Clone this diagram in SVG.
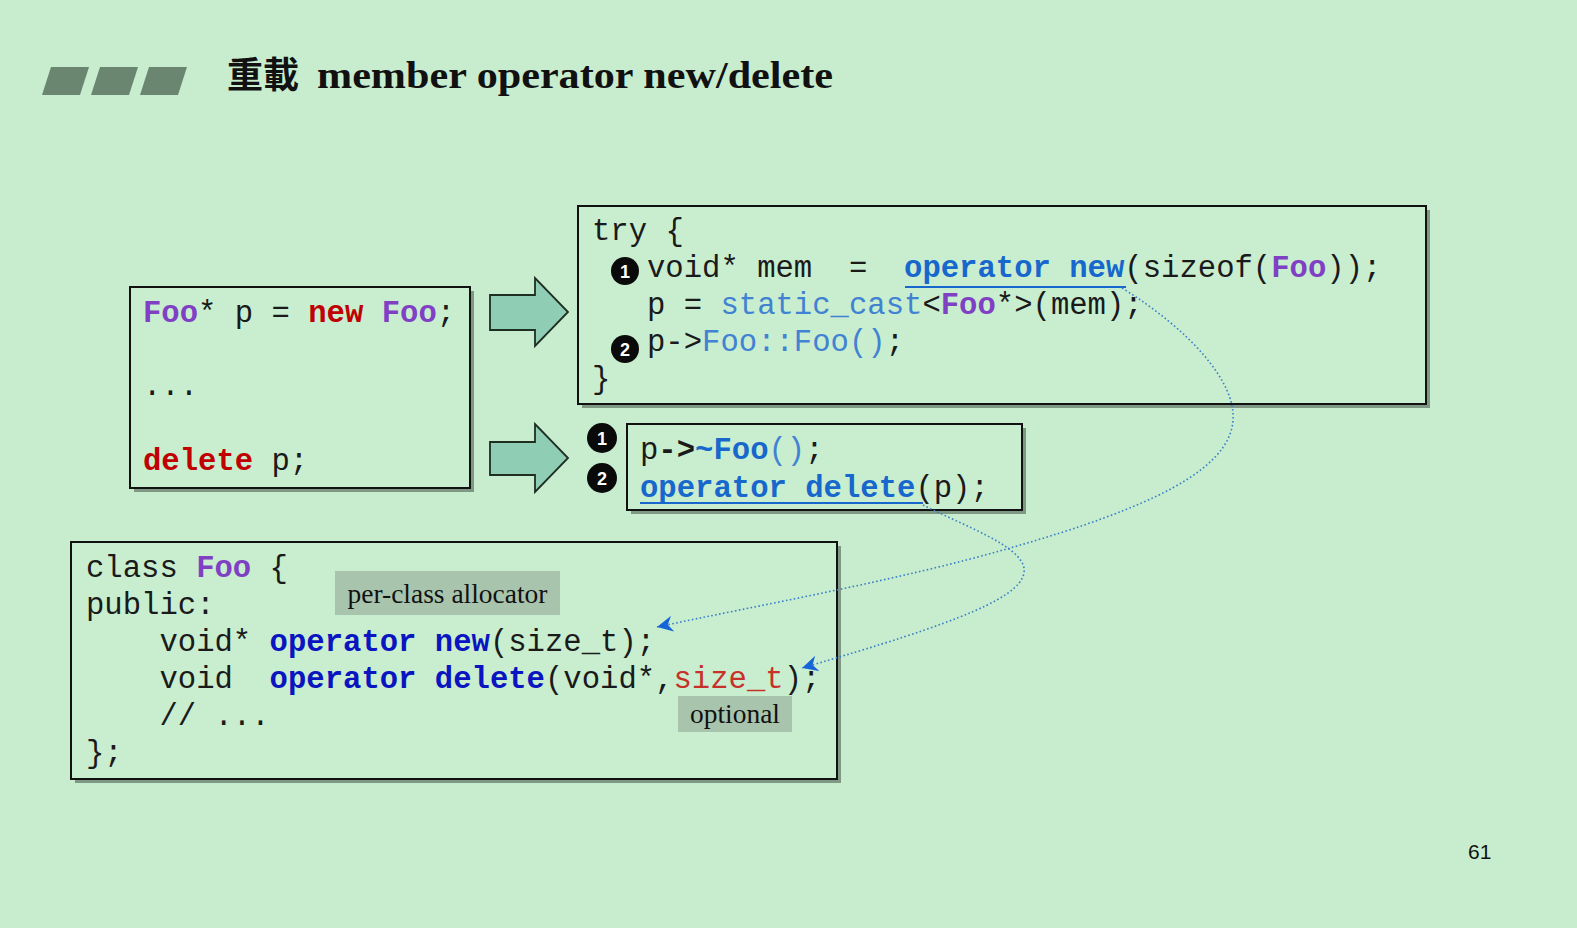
<svg xmlns="http://www.w3.org/2000/svg" width="1577" height="928" viewBox="0 0 1577 928">
<defs>
<style>
.code{font-family:"Liberation Mono","Courier New",monospace;font-size:30.6px;fill:#1a1a1a;white-space:pre}
.b{font-weight:bold}
.pu{fill:#8040C4;font-weight:bold}
.rd{fill:#C00000;font-weight:bold}
.bl{fill:#1767CC;font-weight:bold}
.lb{fill:#4282D2}
.db{fill:#0A14C0;font-weight:bold}
.sr{fill:#C8302A}
.box{fill:#C8EECF;stroke:#111;stroke-width:2}
.shadow{fill:#4f5f52;opacity:.6}
.lbl{fill:#A8C4AD}
.lt{font-family:"Liberation Serif","Times New Roman",serif;font-size:27px;fill:#111}
.conn{fill:none;stroke:#3A7FC8;stroke-width:1.6;stroke-dasharray:1.6 2.4}
.barrow{fill:#8FCDB4;stroke:#1e2e22;stroke-width:1.8;stroke-linejoin:miter}
.ul{stroke:#1767CC;stroke-width:2}
.circ{fill:#0a0a0a}
.cn{font-family:"Liberation Sans",Arial,sans-serif;font-size:18px;font-weight:bold;fill:#fff;text-anchor:middle}
</style>
<marker id="ah" markerWidth="18" markerHeight="16" refX="16" refY="8" orient="auto" markerUnits="userSpaceOnUse">
<path d="M16,8 L0,0 L5,8 L0,16 Z" fill="#1565D8"/>
</marker>
</defs>
<rect width="1577" height="928" fill="#C7EDCE"/>

<g id="title">
<polygon points="51,67 89,67 80,95 42,95" fill="#6A8570"/>
<polygon points="100,67 138,67 129,95 91,95" fill="#6A8570"/>
<polygon points="149,67 187,67 178,95 140,95" fill="#6A8570"/>
<text x="227" y="88" font-family="'Noto Sans CJK TC','Noto Sans CJK SC',sans-serif" font-size="36" font-weight="bold" fill="#111">重載</text>
<text x="317" y="88" font-family="'Liberation Serif','Times New Roman',serif" font-size="38" font-weight="bold" fill="#111" textLength="516" lengthAdjust="spacingAndGlyphs">member operator new/delete</text>
</g>

<g id="client-code">
<rect class="shadow" x="134" y="291" width="340" height="201"/>
<rect class="box" x="130" y="287" width="340" height="201"/>
<text class="code" x="143" y="322"><tspan class="pu">Foo</tspan>* p = <tspan class="rd">new</tspan> <tspan class="pu">Foo</tspan>;</text>
<text class="code" x="143" y="395">...</text>
<text class="code" x="143" y="470"><tspan class="rd">delete</tspan> p;</text>
</g>

<g id="arrow-new">
<polygon class="barrow" points="490,295 535,295 535,278 568,312 535,346 535,330 490,330"/>
</g>
<g id="arrow-delete">
<polygon class="barrow" points="490,442 535,442 535,424 568,458 535,492 535,475 490,475"/>
</g>

<g id="new-expansion">
<rect class="shadow" x="582" y="210" width="848" height="198"/>
<rect class="box" x="578" y="206" width="848" height="198"/>
<text class="code" x="592" y="240">try {</text>
<text class="code" x="647" y="277">void* mem  =  <tspan class="bl">operator new</tspan>(sizeof(<tspan class="pu">Foo</tspan>));</text>
<line class="ul" x1="905" y1="287" x2="1126" y2="287"/>
<text class="code" x="647" y="314">p = <tspan class="lb">static_cast</tspan>&lt;<tspan class="pu">Foo</tspan>*&gt;(mem);</text>
<text class="code" x="647" y="351">p-&gt;<tspan class="lb">Foo::Foo()</tspan>;</text>
<text class="code" x="592" y="388">}</text>
<circle class="circ" cx="625" cy="271" r="14"/>
<text class="cn" x="625" y="277.5">1</text>
<circle class="circ" cx="625" cy="349" r="14"/>
<text class="cn" x="625" y="355.5">2</text>
</g>

<g id="delete-expansion">
<rect class="shadow" x="631" y="428" width="395" height="86"/>
<rect class="box" x="627" y="424" width="395" height="86"/>
<text class="code" x="640" y="459">p<tspan class="b">-&gt;</tspan><tspan class="bl">~Foo</tspan><tspan class="lb">()</tspan>;</text>
<text class="code" x="640" y="497"><tspan class="bl">operator delete</tspan>(p);</text>
<line class="ul" x1="640" y1="503" x2="923" y2="503"/>
<circle class="circ" cx="602" cy="438" r="15"/>
<text class="cn" x="602" y="444.5">1</text>
<circle class="circ" cx="602" cy="478" r="15"/>
<text class="cn" x="602" y="484.5">2</text>
</g>

<g id="class-foo">
<rect class="shadow" x="75" y="546" width="766" height="237"/>
<rect class="box" x="71" y="542" width="766" height="237"/>
<text class="code" x="86" y="577">class <tspan class="pu">Foo</tspan> {</text>
<text class="code" x="86" y="614">public:</text>
<text class="code" x="86" y="651">    void* <tspan class="db">operator new</tspan>(size_t);</text>
<text class="code" x="86" y="688">    void  <tspan class="db">operator delete</tspan>(void*,<tspan class="sr">size_t</tspan>);</text>
<text class="code" x="86" y="725">    // ...</text>
<text class="code" x="86" y="762">};</text>
</g>

<g id="label-per-class">
<rect class="lbl" x="335" y="571" width="225" height="44"/>
<text class="lt" x="447.5" y="603" text-anchor="middle" textLength="200" lengthAdjust="spacingAndGlyphs">per-class allocator</text>
</g>
<g id="label-optional">
<rect class="lbl" x="678" y="696" width="114" height="36"/>
<text class="lt" x="735" y="723" text-anchor="middle" textLength="90" lengthAdjust="spacingAndGlyphs">optional</text>
</g>

<g id="connectors">
<path class="conn" d="M1122,288 C1190,330 1236,382 1233,420 C1230,470 1150,508 1010,548 C900,580 760,605 657,627" marker-end="url(#ah)"/>
<path class="conn" d="M923,505 C962,525 1020,545 1024,568 C1028,596 960,622 802,668" marker-end="url(#ah)"/>
</g>

<g id="page-number">
<text x="1468" y="859" font-family="'Liberation Sans',Arial,sans-serif" font-size="21" fill="#111">61</text>
</g>
</svg>
